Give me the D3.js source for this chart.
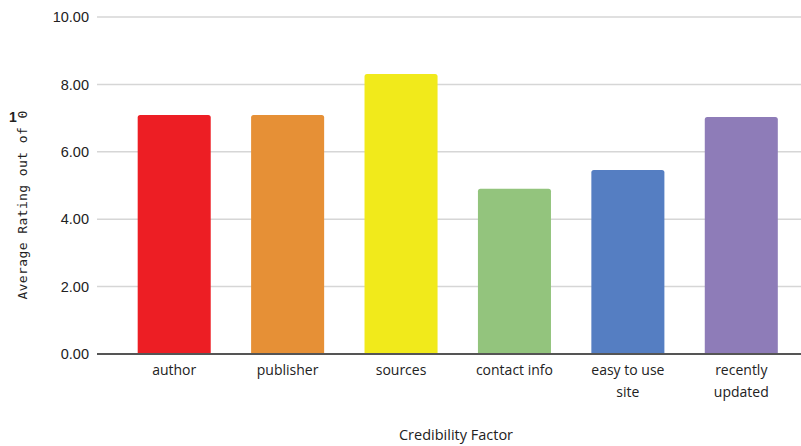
<!DOCTYPE html>
<html>
<head>
<meta charset="utf-8">
<script src="https://cdn.jsdelivr.net/npm/d3@7"></script>
<style>
  html, body { margin: 0; padding: 0; background: #fff; }
  svg { display: block; }
</style>
</head>
<body>
<svg id="chart" width="801" height="446"></svg>
<script>
// Average rating per credibility factor
const categories = ["author", "publisher", "sources", "contact info", "easy to use site", "recently updated"];
const categoryLines = [["author"], ["publisher"], ["sources"], ["contact info"], ["easy to use", "site"], ["recently", "updated"]];
const ratings = [7.09, 7.09, 8.31, 4.90, 5.46, 7.03];
const barColors = ["#ED1E24", "#E69036", "#F1EA1B", "#93C47D", "#557EC2", "#8E7CB8"];
const yTicks = [0, 2, 4, 6, 8, 10];

const svg = d3.select("#chart");

const x = d3.scaleBand()
  .domain(categories)
  .range([117.5, 798])
  .paddingInner(0.356)
  .paddingOuter(0.178);

const y = d3.scaleLinear().domain([0, 10]).range([354, 17]);

// Horizontal gridlines
svg.append("g")
  .selectAll("line")
  .data(yTicks.filter(d => d > 0))
  .join("line")
  .attr("x1", 97).attr("x2", 801)
  .attr("y1", d => y(d)).attr("y2", d => y(d))
  .attr("stroke", "#d6d6d6")
  .attr("stroke-width", 1.5);

// Y axis tick labels
const yAxis = d3.axisLeft(y).tickValues(yTicks).tickFormat(d3.format(".2f")).tickSize(0).tickPadding(0);
const gy = svg.append("g").attr("transform", "translate(89,0)").call(yAxis);
gy.select(".domain").remove();
gy.selectAll("text")
  .attr("font-family", "Liberation Sans, Arial, sans-serif")
  .attr("font-size", 14.5)
  .attr("fill", "#222");

// Bars with slightly rounded tops
const r = 2.5;
svg.append("g")
  .selectAll("path")
  .data(categories)
  .join("path")
  .attr("fill", (d, i) => barColors[i])
  .attr("d", (d, i) => {
    const x0 = x(d), w = x.bandwidth();
    const y0 = y(ratings[i]), yb = y(0);
    return `M${x0},${yb} L${x0},${y0 + r} Q${x0},${y0} ${x0 + r},${y0} L${x0 + w - r},${y0} Q${x0 + w},${y0} ${x0 + w},${y0 + r} L${x0 + w},${yb} Z`;
  });

// X axis line
svg.append("line")
  .attr("x1", 97).attr("x2", 801)
  .attr("y1", y(0)).attr("y2", y(0))
  .attr("stroke", "#555")
  .attr("stroke-width", 2);

// Category labels (wrapped)
const labels = svg.append("g")
  .attr("font-family", "Open Sans, Liberation Sans, sans-serif")
  .attr("font-size", 14)
  .attr("fill", "#222")
  .attr("text-anchor", "middle");
categories.forEach((c, i) => {
  const t = labels.append("text").attr("x", x(c) + x.bandwidth() / 2).attr("y", 375);
  categoryLines[i].forEach((ln, j) => {
    t.append("tspan").attr("x", x(c) + x.bandwidth() / 2).attr("dy", j === 0 ? 0 : 22).text(ln);
  });
});

// X axis title
svg.append("text")
  .attr("x", 456).attr("y", 440)
  .attr("text-anchor", "middle")
  .attr("font-family", "Open Sans, Liberation Sans, sans-serif")
  .attr("font-size", 14.5)
  .attr("fill", "#222")
  .text("Credibility Factor");

// Y axis title
svg.append("text")
  .attr("transform", "translate(27,205) rotate(-90)")
  .attr("text-anchor", "middle")
  .attr("font-family", "DejaVu Sans Mono, monospace")
  .attr("font-size", 13)
  .attr("letter-spacing", 0.4)
  .attr("fill", "#222")
  .text("Average Rating out of 0");
svg.append("text")
  .attr("x", 9).attr("y", 122)
  .attr("font-family", "Liberation Sans, Arial, sans-serif")
  .attr("font-size", 14)
  .attr("font-weight", "bold")
  .attr("fill", "#222")
  .text("1");
</script>
</body>
</html>
